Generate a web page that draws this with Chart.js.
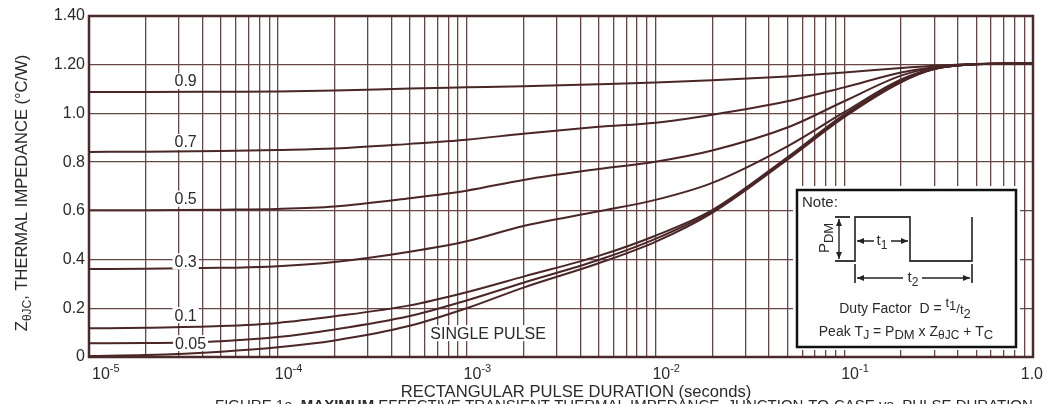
<!DOCTYPE html>
<html>
<head>
<meta charset="utf-8">
<script src="https://cdn.jsdelivr.net/npm/chart.js@4.4.1/dist/chart.umd.min.js"></script>
<style>
html,body{margin:0;padding:0;background:#fff}
#wrap{position:relative;width:1047px;height:404px}
</style>
</head>
<body>
<div id="wrap"><canvas id="c"></canvas></div>
<script>
// pulse duration (s) and Z thetaJC (°C/W) per duty factor
const pulseT=[1e-5,2e-5,5e-5,1e-4,2e-4,5e-4,1e-3,2e-3,5e-3,1e-2,2e-2,5e-2,0.1,0.2,0.3,0.5,1];
const zD09  =[1.088,1.088,1.089,1.090,1.094,1.102,1.107,1.112,1.120,1.127,1.136,1.152,1.168,1.187,1.196,1.203,1.205];
const zD07  =[0.842,0.843,0.846,0.850,0.856,0.875,0.892,0.917,0.945,0.962,0.995,1.050,1.107,1.168,1.190,1.203,1.205];
const zD05  =[0.603,0.603,0.605,0.608,0.618,0.652,0.683,0.727,0.772,0.802,0.848,0.942,1.050,1.155,1.188,1.203,1.205];
const zD03  =[0.361,0.362,0.366,0.373,0.390,0.432,0.475,0.538,0.598,0.645,0.715,0.865,1.005,1.140,1.185,1.202,1.205];
const zD01  =[0.118,0.120,0.127,0.140,0.167,0.212,0.266,0.330,0.415,0.498,0.603,0.820,0.995,1.135,1.183,1.202,1.205];
const zD005 =[0.056,0.057,0.065,0.082,0.113,0.168,0.232,0.305,0.398,0.485,0.598,0.815,0.990,1.130,1.182,1.202,1.205];
const zSingle=[0.004,0.008,0.022,0.040,0.068,0.128,0.200,0.285,0.385,0.473,0.592,0.810,0.985,1.128,1.182,1.202,1.205];

const curveLabels=['0.9','0.7','0.5','0.3','0.1','0.05','SINGLE PULSE'];
const labelT=[3.25e-5,3.25e-5,3.25e-5,3.25e-5,3.25e-5,3.45e-5,1.3e-3];
const labelZ=[1.133,0.883,0.650,0.392,0.172,0.057,0.098];

const yTickVals=[0,0.2,0.4,0.6,0.8,1.0,1.2,1.4];
const yTickLabels=['0','0.2','0.4','0.6','0.8','1.0','1.20','1.40'];
const xDecades=[1e-5,1e-4,1e-3,1e-2,1e-1,1];
const xDecadeExp=['-5','-4','-3','-2','-1',''];
const gridMult=[1,2,3,4,5,6,7,8,9];

const FONT='"Liberation Sans", Arial, sans-serif';
const GRID='#6a4545', CURVE='#4a2626', FRAME='#4a2a2a', TXT='#2a2a2a';

const gridVals=[];
xDecades.slice(0,-1).forEach(d=>gridMult.forEach(m=>gridVals.push(d*m)));
gridVals.push(1);

// draw a run of text pieces [text,size,dy,bold]
function rich(ctx,segs,x,y,align){
  let w=0;
  segs.forEach(s=>{ctx.font=(s[3]?'bold ':'')+s[1]+'px '+FONT;w+=ctx.measureText(s[0]).width;});
  let cx=align==='center'?x-w/2:align==='right'?x-w:x;
  ctx.textAlign='left';ctx.textBaseline='alphabetic';
  segs.forEach(s=>{ctx.font=(s[3]?'bold ':'')+s[1]+'px '+FONT;ctx.fillText(s[0],cx,y+(s[2]||0));cx+=ctx.measureText(s[0]).width;});
}
function head(ctx,x,y,dx,dy){
  const L=7,H=3;ctx.beginPath();
  ctx.moveTo(x,y);ctx.lineTo(x-dx*L-dy*H,y-dy*L+dx*H);ctx.lineTo(x-dx*L+dy*H,y-dy*L-dx*H);ctx.closePath();ctx.fill();
}
function arrow2(ctx,x1,y1,x2,y2){
  const len=Math.hypot(x2-x1,y2-y1),dx=(x2-x1)/len,dy=(y2-y1)/len;
  ctx.beginPath();ctx.moveTo(x1,y1);ctx.lineTo(x2,y2);ctx.stroke();
  head(ctx,x2,y2,dx,dy);head(ctx,x1,y1,-dx,-dy);
}

const decor={id:'decor',afterDraw(chart){
  const ctx=chart.ctx,a=chart.chartArea,xs=chart.scales.x,ys=chart.scales.y;
  ctx.save();
  // curve labels on white
  ctx.font='16px '+FONT;
  curveLabels.forEach((t,i)=>{
    const px=xs.getPixelForValue(labelT[i]),py=ys.getPixelForValue(labelZ[i]);
    const w=ctx.measureText(t).width+4;
    ctx.fillStyle='#fff';ctx.fillRect(px-w/2,py-8,w,16);
    ctx.fillStyle=TXT;ctx.textAlign='center';ctx.textBaseline='middle';ctx.fillText(t,px,py+1);
  });
  // frame
  ctx.strokeStyle=FRAME;ctx.lineWidth=2.5;
  ctx.strokeRect(a.left,a.top,a.right-a.left,a.bottom-a.top);

  // note box
  const bx=a.right-236,by=a.top+174;
  ctx.fillStyle='#fff';ctx.fillRect(bx-4,by-4,227,164);
  ctx.strokeStyle='#111';ctx.lineWidth=2.5;ctx.strokeRect(bx,by,219,157);
  ctx.fillStyle=TXT;
  rich(ctx,[['Note:',15,0]],bx+5,by+17,'left');
  ctx.strokeStyle='#3a3a3a';ctx.fillStyle='#222';ctx.lineWidth=1.8;
  ctx.beginPath();
  ctx.moveTo(bx+38,by+71);ctx.lineTo(bx+58,by+71);ctx.lineTo(bx+58,by+27);ctx.lineTo(bx+113,by+27);
  ctx.lineTo(bx+113,by+71);ctx.lineTo(bx+175,by+71);ctx.lineTo(bx+175,by+27);
  ctx.moveTo(bx+38,by+27);ctx.lineTo(bx+53,by+27);
  ctx.moveTo(bx+58,by+74);ctx.lineTo(bx+58,by+93);
  ctx.moveTo(bx+175,by+74);ctx.lineTo(bx+175,by+93);
  ctx.stroke();
  ctx.strokeStyle='#222';ctx.lineWidth=1.4;
  arrow2(ctx,bx+42,by+29,bx+42,by+69);
  arrow2(ctx,bx+60,by+51,bx+111,by+51);
  arrow2(ctx,bx+60,by+88,bx+173,by+88);
  ctx.fillStyle='#fff';ctx.fillRect(bx+77,by+42,17,18);ctx.fillRect(bx+106,by+79,19,18);
  ctx.fillStyle=TXT;
  rich(ctx,[['t',15,0],['1',12,4]],bx+85,by+55,'center');
  rich(ctx,[['t',15,0],['2',12,4]],bx+116,by+92,'center');
  ctx.save();ctx.translate(bx+32,by+48);ctx.rotate(-Math.PI/2);
  rich(ctx,[['P',15,0],['DM',13,4]],0,0,'center');ctx.restore();
  rich(ctx,[['Duty Factor  D = ',14,0],['t',13,-6],['1',13,-3],['/',13,0],['t',13,1],['2',13,5]],bx+108,by+123,'center');
  rich(ctx,[['Peak T',14,0],['J',12,3],[' = P',14,0],['DM',13,3],[' x Z',14,0],['\u03B8JC',12,3],[' + T',14,0],['C',13,3]],bx+109,by+146,'center');

  // x decade labels
  ctx.fillStyle=TXT;
  xDecades.forEach((d,i)=>{
    const px=xs.getPixelForValue(d),base=a.bottom+22;
    if(!xDecadeExp[i]){rich(ctx,[['1.0',16,0]],px+10,base,'right');return;}
    rich(ctx,[['10',16,0],[xDecadeExp[i],11,-7]],i===0?px+3:px-3,base,'left');
  });
  // axis titles
  rich(ctx,[['RECTANGULAR PULSE DURATION (seconds)',16.6,0]],(a.left+a.right)/2+15,a.bottom+40,'center');
  rich(ctx,[['FIGURE 1a. ',15,0],['MAXIMUM',15,0,true],[' EFFECTIVE TRANSIENT THERMAL IMPEDANCE, JUNCTION-TO-CASE vs. PULSE DURATION',15,0]],215,a.bottom+53,'left');
  ctx.save();ctx.translate(27,193);ctx.rotate(-Math.PI/2);
  rich(ctx,[['Z',16.5,0],['\u03B8JC',12,4],[',',16.5,0],[' THERMAL IMPEDANCE (\u00B0C/W)',16.5,0]],0,0,'center');
  ctx.restore();
  ctx.restore();
}};

const series=[zD09,zD07,zD05,zD03,zD01,zD005,zSingle];
new Chart(document.getElementById('c'),{
  type:'line',
  data:{datasets:series.map((s,i)=>({
    label:curveLabels[i],
    data:pulseT.map((t,j)=>({x:t,y:s[j]})),
    borderColor:CURVE,borderWidth:2,pointRadius:0,fill:false,cubicInterpolationMode:'monotone'
  }))},
  options:{
    responsive:true,maintainAspectRatio:false,animation:false,
    layout:{padding:{top:16,right:14,left:0,bottom:0}},
    plugins:{legend:{display:false},tooltip:{enabled:false}},
    scales:{
      x:{type:'logarithmic',min:1e-5,max:1,
        afterBuildTicks(s){s.ticks=gridVals.map(v=>({value:v}));},
        afterFit(s){s.height=47;},
        ticks:{display:false},
        grid:{color:GRID,lineWidth:1.3,drawTicks:false},
        border:{display:false}},
      y:{min:0,max:1.4,
        afterBuildTicks(s){s.ticks=yTickVals.map(v=>({value:v}));},
        afterFit(s){s.width=89;},
        ticks:{callback:(v,i)=>yTickLabels[i],color:TXT,font:{size:16,family:FONT},padding:4},
        grid:{color:GRID,lineWidth:1.3,drawTicks:false},
        border:{display:false}}
    }
  },
  plugins:[decor]
});
</script>
</body>
</html>
